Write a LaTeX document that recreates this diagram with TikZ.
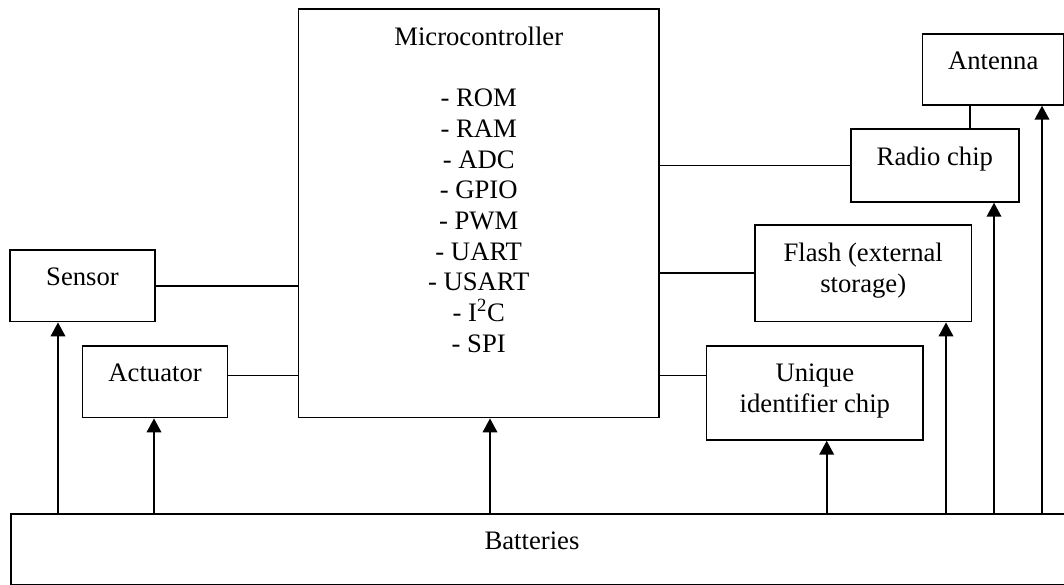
\documentclass[tikz,border=0pt]{standalone}
\usepackage{fontspec}
\setmainfont{Liberation Serif}
\usetikzlibrary{arrows.meta}
\begin{document}
\begin{tikzpicture}[x=0.75pt,y=-0.75pt,
  box/.style={draw, line width=1.3pt, rectangle, inner sep=0pt, anchor=north west},
  txt/.style={font=\fontsize{20}{23}\selectfont, align=center, inner sep=0pt, anchor=north, yshift=-14.1pt},
  wire/.style={line width=1.3pt},
  arr/.style={line width=1.3pt, -{Triangle[width=11pt,length=10.5pt]}}]
\useasboundingbox (0,0) rectangle (1064,585);

% boxes
\node[box, minimum width=360.3*0.75pt, minimum height=408.7*0.75pt] (micro) at (297.7,8) {};
\node[box, minimum width=144.7*0.75pt, minimum height=71.7*0.75pt] (sensor) at (9.3,249) {};
\node[box, minimum width=145*0.75pt, minimum height=71.7*0.75pt] (act) at (81.7,345) {};
\node[box, minimum width=141.3*0.75pt, minimum height=71*0.75pt] (ant) at (921.7,33) {};
\node[box, minimum width=168*0.75pt, minimum height=73*0.75pt] (radio) at (850,128) {};
\node[box, minimum width=216.7*0.75pt, minimum height=96.7*0.75pt] (flash) at (754,224) {};
\node[box, minimum width=216.6*0.75pt, minimum height=94*0.75pt] (uid) at (705.7,345) {};
\node[box, minimum width=1070*0.75pt, minimum height=71*0.75pt] (bat) at (10,513) {};

% texts
\node[txt] (microT) at (micro.north) {Microcontroller\\[23pt]- ROM\\- RAM\\- ADC\\- GPIO\\- PWM\\- UART\\- USART\\- I\textsuperscript{2}C\\- SPI};
\node[txt] (sensorT) at (sensor.north) {Sensor};
\node[txt] (actT) at (act.north) {Actuator};
\node[txt] (antT) at (ant.north) {Antenna};
\node[txt] (radioT) at (radio.north) {Radio chip};
\node[txt] (flashT) at (flash.north) {Flash (external\\storage)};
\node[txt] (uidT) at (uid.north) {Unique\\identifier chip};
\coordinate (xB) at (532,0);
\node[txt] (batT) at (bat.north -| xB) {Batteries};

% plain connectors
\coordinate (yA) at (0,375.5);
\draw[wire] (sensor.east) -- (sensor.east -| micro.west);
\draw[wire] (act.east |- yA) -- (micro.west |- yA);
\draw[wire] (micro.east |- radio.west) -- (radio.west);
\draw[wire] (micro.east |- flash.west) -- (flash.west);
\draw[wire] (micro.east |- yA) -- (uid.west |- yA);
\coordinate (xC) at (970,0);
\draw[wire] (radio.north -| xC) -- (ant.south -| xC);

% power arrows
\coordinate (xS) at (58,0);
\coordinate (xA) at (154,0);
\coordinate (xM) at (490,0);
\coordinate (xU) at (826.7,0);
\coordinate (xF) at (946,0);
\coordinate (xR) at (994,0);
\coordinate (xN) at (1042,0);
\draw[arr] (bat.north -| xS) -- (sensor.south -| xS);
\draw[arr] (bat.north -| xA) -- (act.south -| xA);
\draw[arr] (bat.north -| xM) -- (micro.south -| xM);
\draw[arr] (bat.north -| xU) -- (uid.south -| xU);
\draw[arr] (bat.north -| xF) -- (flash.south -| xF);
\draw[arr] (bat.north -| xR) -- (radio.south -| xR);
\draw[arr] (bat.north -| xN) -- (ant.south -| xN);
\end{tikzpicture}
\end{document}
